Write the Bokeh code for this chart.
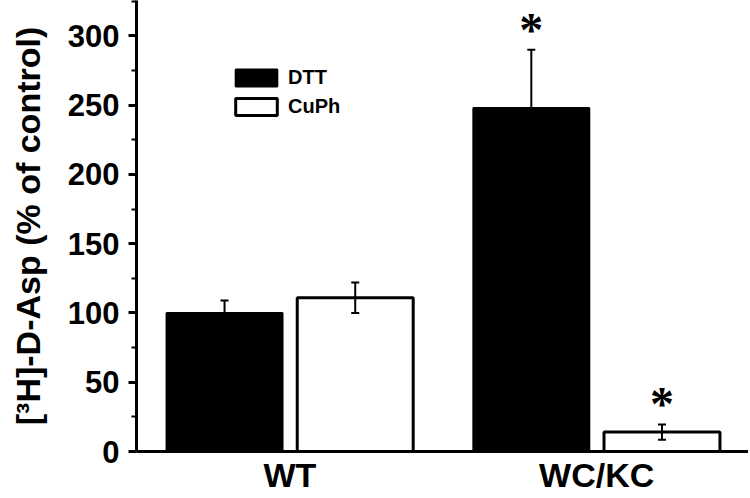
from bokeh.plotting import figure
from bokeh.models import (ColumnDataSource, Range1d, FixedTicker, Whisker, TeeHead,
                          Legend, LegendItem, LabelSet)
from bokeh.embed import file_html
from bokeh.resources import INLINE

# ---- data ----
groups = ["WT", "WC/KC"]
dtt_mean = [100, 248]
dtt_err = [9, 42]
cuph_mean = [111, 14]
cuph_err = [11, 5.5]
dtt_sig = [False, True]
cuph_sig = [False, True]
y_ticks = [0, 50, 100, 150, 200, 250, 300]
y_label = "[³H]-D-Asp (% of control)"

FONT = "Liberation Sans"
TOP = 0
FRAME_H = 451
centers = [i + 1 for i in range(len(groups))]
off = 0.213
bw = 0.378

dtt_x = [c - off for c in centers]
cuph_x = [c + off for c in centers]

src_dtt = ColumnDataSource(dict(x=dtt_x, top=dtt_mean,
                                up=[m + e for m, e in zip(dtt_mean, dtt_err)],
                                lo=[m - e for m, e in zip(dtt_mean, dtt_err)]))
src_cuph = ColumnDataSource(dict(x=cuph_x, top=cuph_mean,
                                 up=[m + e for m, e in zip(cuph_mean, cuph_err)],
                                 lo=[m - e for m, e in zip(cuph_mean, cuph_err)]))

p = figure(frame_width=612, frame_height=FRAME_H, output_backend="svg",
           toolbar_location=None,
           x_range=Range1d(0.5, 2.495), y_range=Range1d(0, 325.5),
           min_border_left=136, min_border_right=0, min_border_top=TOP,
           min_border_bottom=0)
p.outline_line_color = None
p.grid.visible = False
p.background_fill_color = "white"
p.border_fill_color = "white"

r_dtt = p.vbar(x="x", top="top", width=bw, source=src_dtt,
               fill_color="black", line_color="black", line_width=2)
r_cuph = p.vbar(x="x", top="top", width=bw, source=src_cuph,
                fill_color="white", line_color="black", line_width=3)

for src in (src_dtt, src_cuph):
    w = Whisker(base="x", upper="up", lower="lo", source=src, dimension="height",
                line_color="black", line_width=2,
                upper_head=TeeHead(size=8, line_width=2, line_color="black"),
                lower_head=TeeHead(size=8, line_width=2, line_color="black"))
    w.level = "annotation"
    p.add_layout(w)

# significance stars (anchored by the top of their text box)
star_x = [x for x, s in zip(dtt_x, dtt_sig) if s] + [x for x, s in zip(cuph_x, cuph_sig) if s]
star_y = [m + e + 34 for m, e, s in zip(dtt_mean, dtt_err, dtt_sig) if s] + \
         [m + e + 34 for m, e, s in zip(cuph_mean, cuph_err, cuph_sig) if s]
star_src = ColumnDataSource(dict(x=star_x, y=star_y, t=["*"] * len(star_x)))
stars = LabelSet(x="x", y="y", text="t", source=star_src, text_align="center",
                 text_baseline="top", text_font=FONT, text_font_style="bold",
                 text_font_size="48px", text_color="black")
p.add_layout(stars)

# axes
ya = p.yaxis[0]
ya.ticker = FixedTicker(ticks=y_ticks, minor_ticks=[t + 25 for t in y_ticks])
ya.axis_label = y_label
ya.axis_label_text_font = FONT
ya.axis_label_text_font_style = "bold"
ya.axis_label_text_font_size = "34px"
ya.axis_label_text_color = "black"
ya.axis_label_standoff = 18
ya.major_label_text_font = FONT
ya.major_label_text_font_style = "bold"
ya.major_label_text_font_size = "31px"
ya.major_label_text_color = "black"
ya.major_label_standoff = 9
ya.axis_line_width = 3
ya.major_tick_line_width = 3
ya.minor_tick_line_width = 2
ya.major_tick_in = 0
ya.major_tick_out = 8
ya.minor_tick_in = 0
ya.minor_tick_out = 5

xa = p.xaxis[0]
xa.ticker = FixedTicker(ticks=centers)
xa.major_label_overrides = {c: g for c, g in zip(centers, groups)}
xa.major_label_text_font = FONT
xa.major_label_text_font_style = "bold"
xa.major_label_text_font_size = "34px"
xa.major_label_text_color = "black"
xa.major_label_standoff = 4
xa.major_tick_out = 0
xa.major_tick_in = 0
xa.minor_tick_out = 0
xa.minor_tick_in = 0
xa.axis_line_width = 3
xa.major_tick_line_color = None
xa.minor_tick_line_color = None

legend = Legend(items=[LegendItem(label="DTT", renderers=[r_dtt]),
                       LegendItem(label="CuPh", renderers=[r_cuph])],
                location=(94, FRAME_H - (70 - TOP) - 48), orientation="vertical",
                glyph_width=52, glyph_height=21, spacing=6, padding=0, margin=0,
                label_text_font=FONT, label_text_font_style="bold",
                label_text_font_size="20px", label_text_color="black",
                label_standoff=6, label_height=21,
                border_line_color=None, background_fill_alpha=0)
p.add_layout(legend)

open("out.html", "w").write(file_html(p, INLINE))
